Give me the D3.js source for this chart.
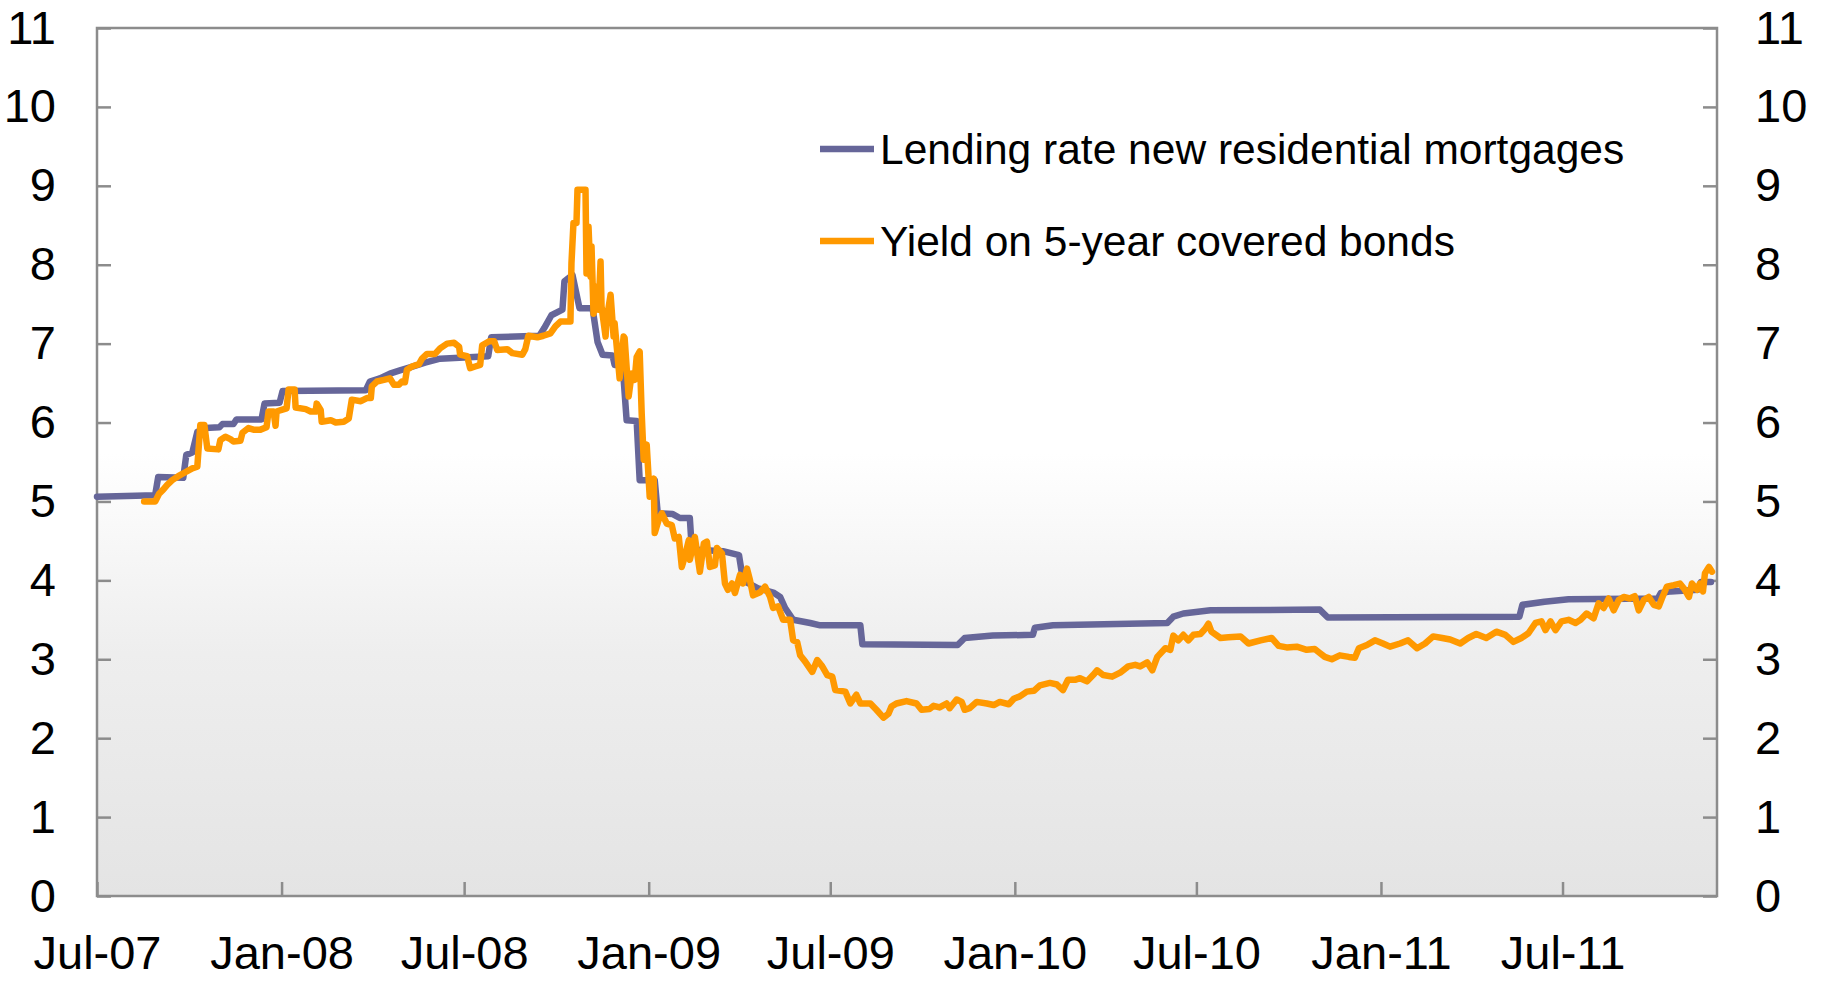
<!DOCTYPE html>
<html>
<head>
<meta charset="utf-8">
<script src="https://cdn.jsdelivr.net/npm/d3@7"></script>
<style>
  body { margin: 0; background: #fff; }
  svg { display: block; font-family: "Liberation Sans", Arial, sans-serif; }
</style>
</head>
<body>
<svg width="1825" height="981"></svg>
<script>
//	series names, as in the legend
var seriesNames = ["Lending rate new residential mortgages", "Yield on 5-year covered bonds"];

//	lending rate, per cent (date, value)
var lendingRate = [
	["2007-07-01",5.06],["2007-08-28",5.08],["2007-08-31",5.31],["2007-09-25",5.30],["2007-09-28",5.59],
	["2007-10-04",5.62],["2007-10-09",5.88],["2007-10-17",5.93],["2007-10-31",5.94],["2007-11-03",5.98],
	["2007-11-14",5.98],["2007-11-17",6.04],["2007-12-12",6.04],["2007-12-15",6.24],["2007-12-30",6.25],
	["2008-01-02",6.40],["2008-03-25",6.41],["2008-03-29",6.52],["2008-04-08",6.56],["2008-04-18",6.62],
	["2008-04-28",6.66],["2008-05-08",6.70],["2008-05-23",6.76],["2008-06-07",6.81],["2008-07-25",6.84],
	["2008-07-28",7.08],["2008-09-14",7.10],["2008-09-19",7.20],["2008-09-26",7.36],["2008-10-07",7.43],
	["2008-10-09",7.79],["2008-10-17",7.87],["2008-10-24",7.45],["2008-11-06",7.45],["2008-11-11",7.02],
	["2008-11-16",6.86],["2008-11-26",6.85],["2008-11-28",6.73],["2008-12-06",6.73],["2008-12-10",6.03],
	["2008-12-20",6.02],["2008-12-23",5.27],["2009-01-07",5.27],["2009-01-10",4.85],["2009-01-25",4.84],
	["2009-02-01",4.79],["2009-02-11",4.79],["2009-02-13",4.39],["2009-03-16",4.37],["2009-04-01",4.32],
	["2009-04-05",4.00],["2009-04-20",3.90],["2009-05-06",3.84],["2009-05-12",3.79],["2009-05-17",3.65],
	["2009-05-25",3.50],["2009-06-11",3.46],["2009-06-21",3.43],["2009-07-31",3.43],["2009-08-02",3.19],
	["2009-11-05",3.18],["2009-11-12",3.27],["2009-12-10",3.30],["2010-01-19",3.31],["2010-01-21",3.40],
	["2010-02-08",3.43],["2010-06-02",3.46],["2010-06-08",3.54],["2010-06-18",3.58],["2010-07-15",3.62],
	["2010-11-01",3.63],["2010-11-09",3.53],["2011-05-19",3.54],["2011-05-22",3.69],["2011-06-13",3.73],
	["2011-07-07",3.76],["2011-10-04",3.77],["2011-10-07",3.84],["2011-10-17",3.86],["2011-11-13",3.88],
	["2011-11-16",3.98],["2011-11-26",3.98]
];

//	5-year covered bond yield, per cent (date, value)
var bondYield = [
	["2007-08-17",5.00],["2007-08-28",5.00],["2007-09-01",5.10],["2007-09-05",5.15],["2007-09-09",5.21],
	["2007-09-14",5.27],["2007-09-20",5.32],["2007-09-27",5.37],["2007-10-04",5.42],["2007-10-09",5.44],
	["2007-10-12",5.97],["2007-10-16",5.97],["2007-10-19",5.67],["2007-10-30",5.66],["2007-11-01",5.78],
	["2007-11-06",5.82],["2007-11-11",5.79],["2007-11-14",5.76],["2007-11-21",5.77],["2007-11-23",5.87],
	["2007-11-29",5.93],["2007-12-04",5.91],["2007-12-11",5.91],["2007-12-17",5.94],["2007-12-19",6.14],
	["2007-12-24",6.14],["2007-12-26",5.96],["2007-12-27",6.14],["2008-01-01",6.16],["2008-01-06",6.18],
	["2008-01-08",6.42],["2008-01-14",6.42],["2008-01-15",6.19],["2008-01-25",6.17],["2008-01-30",6.14],
	["2008-02-04",6.14],["2008-02-05",6.24],["2008-02-09",6.16],["2008-02-10",6.01],["2008-02-19",6.03],
	["2008-02-24",6.00],["2008-03-03",6.01],["2008-03-08",6.05],["2008-03-11",6.29],["2008-03-20",6.27],
	["2008-03-26",6.31],["2008-03-30",6.31],["2008-03-31",6.46],["2008-04-05",6.52],["2008-04-12",6.54],
	["2008-04-18",6.56],["2008-04-22",6.48],["2008-04-27",6.48],["2008-04-30",6.52],["2008-05-03",6.51],
	["2008-05-05",6.67],["2008-05-10",6.71],["2008-05-17",6.74],["2008-05-20",6.81],["2008-05-25",6.87],
	["2008-06-02",6.87],["2008-06-07",6.94],["2008-06-14",7.00],["2008-06-21",7.01],["2008-06-26",6.96],
	["2008-06-27",6.86],["2008-07-04",6.84],["2008-07-07",6.69],["2008-07-12",6.71],["2008-07-17",6.73],
	["2008-07-19",6.98],["2008-07-26",7.03],["2008-07-31",7.03],["2008-08-03",6.92],["2008-08-13",6.93],
	["2008-08-18",6.88],["2008-08-28",6.86],["2008-08-31",6.93],["2008-09-03",7.10],["2008-09-12",7.08],
	["2008-09-18",7.10],["2008-09-25",7.13],["2008-09-30",7.22],["2008-10-05",7.28],["2008-10-15",7.28],
	["2008-10-16",8.02],["2008-10-18",8.53],["2008-10-21",8.53],["2008-10-22",8.95],["2008-10-30",8.95],
	["2008-10-31",7.89],["2008-11-02",8.48],["2008-11-04",7.85],["2008-11-05",8.23],["2008-11-07",7.38],
	["2008-11-10",7.72],["2008-11-12",7.43],["2008-11-14",8.04],["2008-11-15",7.47],["2008-11-19",7.09],
	["2008-11-20",7.30],["2008-11-24",7.62],["2008-11-27",7.09],["2008-11-28",7.26],["2008-12-03",6.56],
	["2008-12-07",7.09],["2008-12-08",7.07],["2008-12-12",6.33],["2008-12-15",6.62],["2008-12-18",6.54],
	["2008-12-20",6.83],["2008-12-23",6.90],["2008-12-25",6.12],["2008-12-27",5.53],["2008-12-30",5.72],
	["2009-01-02",5.06],["2009-01-06",5.29],["2009-01-07",4.60],["2009-01-11",4.77],["2009-01-14",4.85],
	["2009-01-19",4.72],["2009-01-24",4.70],["2009-01-27",4.53],["2009-01-31",4.55],["2009-02-03",4.17],
	["2009-02-06",4.30],["2009-02-10",4.51],["2009-02-11",4.26],["2009-02-16",4.55],["2009-02-21",4.11],
	["2009-02-25",4.47],["2009-02-28",4.49],["2009-03-03",4.17],["2009-03-08",4.19],["2009-03-10",4.41],
	["2009-03-15",4.34],["2009-03-18",3.96],["2009-03-21",3.88],["2009-03-25",3.96],["2009-03-28",3.84],
	["2009-04-02",4.07],["2009-04-05",3.96],["2009-04-09",4.15],["2009-04-12",4.00],["2009-04-15",3.81],
	["2009-04-22",3.85],["2009-04-27",3.92],["2009-05-02",3.79],["2009-05-05",3.65],["2009-05-10",3.67],
	["2009-05-15",3.50],["2009-05-22",3.50],["2009-05-25",3.24],["2009-05-29",3.22],["2009-06-01",3.05],
	["2009-06-06",2.97],["2009-06-13",2.84],["2009-06-18",2.99],["2009-06-23",2.91],["2009-06-28",2.80],
	["2009-07-03",2.78],["2009-07-06",2.61],["2009-07-16",2.59],["2009-07-21",2.44],["2009-07-27",2.55],
	["2009-07-31",2.44],["2009-08-10",2.44],["2009-08-16",2.36],["2009-08-23",2.26],["2009-08-28",2.31],
	["2009-08-31",2.40],["2009-09-05",2.44],["2009-09-15",2.47],["2009-09-25",2.44],["2009-09-30",2.36],
	["2009-10-08",2.37],["2009-10-12",2.41],["2009-10-18",2.39],["2009-10-25",2.44],["2009-10-28",2.38],
	["2009-11-04",2.49],["2009-11-09",2.46],["2009-11-12",2.36],["2009-11-17",2.38],["2009-11-24",2.46],
	["2009-12-04",2.44],["2009-12-11",2.42],["2009-12-17",2.46],["2009-12-26",2.43],["2009-12-31",2.50],
	["2010-01-06",2.53],["2010-01-13",2.59],["2010-01-20",2.60],["2010-01-26",2.67],["2010-02-05",2.70],
	["2010-02-12",2.68],["2010-02-18",2.61],["2010-02-23",2.74],["2010-03-02",2.74],["2010-03-07",2.76],
	["2010-03-14",2.72],["2010-03-20",2.80],["2010-03-24",2.86],["2010-03-30",2.80],["2010-04-08",2.78],
	["2010-04-16",2.83],["2010-04-24",2.91],["2010-05-01",2.93],["2010-05-06",2.91],["2010-05-13",2.96],
	["2010-05-18",2.86],["2010-05-23",3.03],["2010-05-31",3.14],["2010-06-05",3.12],["2010-06-08",3.30],
	["2010-06-13",3.24],["2010-06-18",3.31],["2010-06-23",3.24],["2010-06-28",3.31],["2010-07-05",3.32],
	["2010-07-10",3.39],["2010-07-13",3.45],["2010-07-16",3.35],["2010-07-25",3.27],["2010-08-02",3.28],
	["2010-08-14",3.29],["2010-08-22",3.20],["2010-09-03",3.24],["2010-09-14",3.27],["2010-09-21",3.17],
	["2010-09-29",3.15],["2010-10-09",3.16],["2010-10-19",3.12],["2010-10-27",3.13],["2010-11-01",3.08],
	["2010-11-06",3.03],["2010-11-13",3.00],["2010-11-21",3.05],["2010-11-30",3.03],["2010-12-06",3.02],
	["2010-12-10",3.14],["2010-12-18",3.18],["2010-12-26",3.24],["2011-01-03",3.20],["2011-01-10",3.16],
	["2011-01-20",3.20],["2011-01-28",3.24],["2011-02-06",3.14],["2011-02-14",3.20],["2011-02-22",3.29],
	["2011-03-03",3.27],["2011-03-11",3.25],["2011-03-21",3.20],["2011-03-29",3.27],["2011-04-06",3.32],
	["2011-04-16",3.27],["2011-04-26",3.35],["2011-05-05",3.31],["2011-05-13",3.22],["2011-05-21",3.27],
	["2011-05-28",3.33],["2011-06-04",3.46],["2011-06-10",3.48],["2011-06-14",3.37],["2011-06-19",3.48],
	["2011-06-24",3.37],["2011-06-30",3.48],["2011-07-07",3.50],["2011-07-14",3.46],["2011-07-19",3.50],
	["2011-07-25",3.58],["2011-08-01",3.52],["2011-08-06",3.71],["2011-08-11",3.65],["2011-08-16",3.77],
	["2011-08-21",3.62],["2011-08-26",3.75],["2011-08-31",3.79],["2011-09-06",3.77],["2011-09-11",3.80],
	["2011-09-15",3.62],["2011-09-20",3.75],["2011-09-25",3.79],["2011-09-30",3.69],["2011-10-05",3.67],
	["2011-10-08",3.77],["2011-10-13",3.92],["2011-10-20",3.94],["2011-10-26",3.96],["2011-10-31",3.88],
	["2011-11-04",3.79],["2011-11-07",3.96],["2011-11-12",3.88],["2011-11-15",3.96],["2011-11-18",3.86],
	["2011-11-20",4.09],["2011-11-24",4.17],["2011-11-27",4.11]
];

//	axis range and ticks
var dateRange = ["2007-07-01", "2011-12-02"];
var xTicks = ["2007-07-01","2008-01-01","2008-07-01","2009-01-01","2009-07-01","2010-01-01","2010-07-01","2011-01-01","2011-07-01"];
var yTicks = [0,1,2,3,4,5,6,7,8,9,10,11];

var colors = ["#666699", "#ff9900"];

var svg = d3.select("svg");
var margin = {top: 28, right: 108, bottom: 85, left: 97};
var width = +svg.attr("width") - margin.left - margin.right,
	height = +svg.attr("height") - margin.top - margin.bottom;

var parseTime = d3.timeParse("%Y-%m-%d");
var x = d3.scaleTime().domain(dateRange.map(parseTime)).range([0, width]);
var y = d3.scaleLinear().domain([0, 11]).range([height, 0]);

var g = svg.append("g").attr("transform", "translate(" + margin.left + "," + margin.top + ")");

//	background: white fading into light grey
var grad = svg.append("defs").append("linearGradient")
	.attr("id", "bg").attr("x1", 0).attr("y1", 0).attr("x2", 0).attr("y2", 1);
grad.append("stop").attr("offset", "0").attr("stop-color", "#ffffff");
grad.append("stop").attr("offset", "0.49").attr("stop-color", "#ffffff");
grad.append("stop").attr("offset", "0.72").attr("stop-color", "#eeeeee");
grad.append("stop").attr("offset", "1").attr("stop-color", "#e4e4e4");

g.append("rect")
	.attr("width", width).attr("height", height)
	.attr("fill", "url(#bg)");

//	axes, ticks pointing inward
var fontSize = 47;
var axisLeft = d3.axisLeft(y).tickValues(yTicks).tickSize(-14).tickPadding(41);
var axisRight = d3.axisRight(y).tickValues(yTicks).tickSize(-14).tickPadding(38);
var axisBottom = d3.axisBottom(x).tickValues(xTicks.map(parseTime))
	.tickFormat(d3.timeFormat("%b-%y")).tickSize(-14).tickPadding(40);

function styleAxis(sel) {
	sel.select(".domain").remove();
	sel.selectAll("line").attr("stroke", "#8c8c8c").attr("stroke-width", 2.5);
	sel.selectAll("text").attr("fill", "#000").style("font-size", fontSize + "px");
}
g.append("g").call(axisLeft).call(styleAxis);
g.append("g").attr("transform", "translate(" + width + ",0)").call(axisRight).call(styleAxis)
	.selectAll("text").attr("text-anchor", "start");
g.append("g").attr("transform", "translate(0," + height + ")").call(axisBottom).call(styleAxis);

//	plot frame
g.append("rect")
	.attr("width", width).attr("height", height)
	.attr("fill", "none").attr("stroke", "#8c8c8c").attr("stroke-width", 2.5);

//	lines
var line = d3.line()
	.x(function(d) { return x(parseTime(d[0])); })
	.y(function(d) { return y(d[1]); });

[lendingRate, bondYield].forEach(function(data, i) {
	g.append("path")
		.datum(data)
		.attr("fill", "none")
		.attr("stroke", colors[i])
		.attr("stroke-width", 6.5)
		.attr("stroke-linejoin", "round")
		.attr("stroke-linecap", "round")
		.attr("d", line);
});

//	legend
var legend = svg.append("g").attr("transform", "translate(820,149)");
seriesNames.forEach(function(name, i) {
	var row = legend.append("g").attr("transform", "translate(0," + (i * 92) + ")");
	row.append("line")
		.attr("x1", 0).attr("x2", 54)
		.attr("stroke", colors[i]).attr("stroke-width", 6.5);
	row.append("text")
		.attr("x", 60).attr("dy", "0.35em")
		.style("font-size", "42.5px")
		.text(name);
});
</script>
</body>
</html>
